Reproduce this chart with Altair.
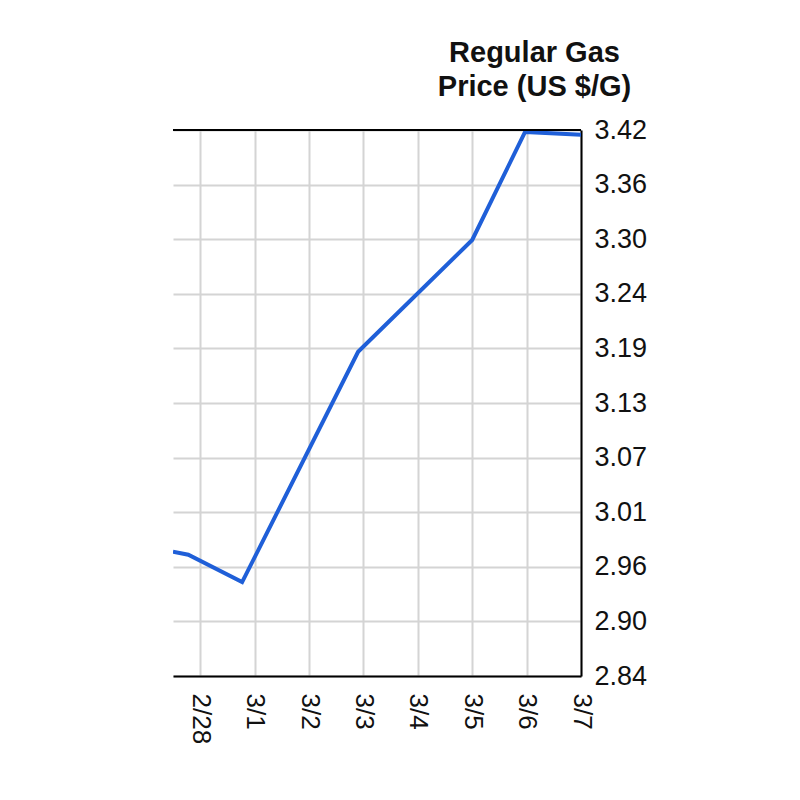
import altair as alt
import pandas as pd

# Data
times = [
    "2022-02-27T12:00:00",
    "2022-02-27T18:45:00",
    "2022-02-28T18:30:00",
    "2022-03-02T21:40:00",
    "2022-03-05T00:00:00",
    "2022-03-05T23:20:00",
    "2022-03-07T00:00:00",
]
prices = [2.971, 2.968, 2.939, 3.182, 3.300, 3.414, 3.411]

# Axis ticks
x_tick_days = [(2, 28), (3, 1), (3, 2), (3, 3), (3, 4), (3, 5), (3, 6), (3, 7)]
y_ticks = [2.84, 2.8976, 2.9552, 3.0128, 3.0704, 3.128, 3.1856, 3.2432, 3.3008, 3.3584, 3.416]
title_lines = ["Regular Gas", "Price (US $/G)"]

df = pd.DataFrame({"time": times, "price": prices})

W, H = 408, 546
FONT = "Liberation Sans"

x_axis = alt.Axis(
    values=[alt.DateTime(year=2022, month=m, date=d) for m, d in x_tick_days],
    format="%-m/%-d",
    labelAngle=90,
    labelAlign="left",
    labelBaseline="middle",
    labelFontSize=26,
    labelFont=FONT,
    labelColor="#111111",
    labelPadding=17,
    ticks=False,
    grid=True,
    gridColor="#d4d4d4",
    gridWidth=2,
    domain=True,
    domainColor="#000000",
    domainWidth=2,
    title=None,
)

y_axis = alt.Axis(
    orient="right",
    values=y_ticks,
    format=".2f",
    labelFontSize=27,
    labelFont=FONT,
    labelColor="#111111",
    labelPadding=13,
    ticks=False,
    grid=True,
    gridColor="#d4d4d4",
    gridWidth=2,
    domain=True,
    domainColor="#000000",
    domainWidth=2,
    title=title_lines,
    titleAngle=0,
    titleAlign="center",
    titleBaseline="alphabetic",
    titleX=-47,
    titleY=-69,
    titleFontSize=29,
    titleFont=FONT,
    titleFontWeight="bold",
    titleColor="#111111",
    titleLineHeight=34,
)

line = alt.Chart(df).mark_line(color="#1f5fd8", strokeWidth=4, clip=True).encode(
    x=alt.X(
        "time:T",
        scale=alt.Scale(domain=[
            alt.DateTime(year=2022, month=2, date=27, hours=12),
            alt.DateTime(year=2022, month=3, date=7),
        ]),
        axis=x_axis,
    ),
    y=alt.Y("price:Q", scale=alt.Scale(domain=[2.84, 3.416], nice=False, zero=False), axis=y_axis),
)

top_border = alt.Chart(df).mark_rule(color="#000000", strokeWidth=2).encode(
    x=alt.value(0), x2=alt.value(W), y=alt.value(0)
)

chart = alt.layer(line, top_border).properties(
    width=W,
    height=H,
    autosize=alt.AutoSizeParams(type="none"),
    padding={"left": 165, "top": 122, "right": 150, "bottom": 110},
    background="#ffffff",
).configure_view(stroke=None)

chart.save("out.html", embed_options={"renderer": "svg", "actions": False})
